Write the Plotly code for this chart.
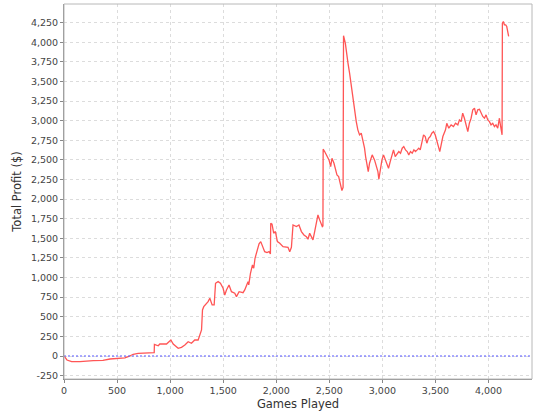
import plotly.graph_objects as go

games = [0, 28, 72, 150, 276, 367, 433, 574, 605, 652, 699, 809, 850, 852, 888, 903, 966,
         1007, 1029, 1076, 1107, 1139, 1170, 1201, 1232, 1264, 1286, 1296, 1305, 1317, 1358,
         1374, 1396, 1415, 1428, 1452, 1474, 1499, 1515, 1531, 1555, 1578, 1609, 1625, 1650,
         1687, 1703, 1719, 1734, 1741, 1757, 1776, 1788, 1800, 1819, 1838, 1854, 1875, 1891,
         1913, 1932, 1945, 1948, 1960, 1976, 1992, 2011, 2033, 2064, 2111, 2127, 2143, 2152,
         2158, 2190, 2214, 2237, 2261, 2284, 2299, 2315, 2331, 2346, 2362, 2378, 2393, 2409,
         2425, 2434, 2440, 2442, 2456, 2472, 2497, 2513, 2525, 2544, 2560, 2572, 2588, 2604,
         2619, 2630, 2634, 2651, 2660, 2676, 2691, 2707, 2722, 2738, 2754, 2769, 2785, 2801,
         2816, 2832, 2842, 2854, 2867, 2879, 2904, 2926, 2942, 2958, 2967, 2980, 2996, 3011,
         3027, 3042, 3058, 3074, 3089, 3105, 3121, 3136, 3155, 3171, 3187, 3202, 3218, 3234,
         3249, 3265, 3281, 3297, 3312, 3328, 3343, 3357, 3372, 3388, 3404, 3419, 3435, 3451,
         3466, 3482, 3498, 3513, 3529, 3541, 3554, 3570, 3595, 3607, 3626, 3648, 3670, 3689,
         3711, 3726, 3742, 3757, 3773, 3789, 3805, 3820, 3836, 3852, 3868, 3883, 3899, 3915,
         3930, 3946, 3962, 3977, 3993, 4009, 4024, 4040, 4056, 4071, 4087, 4103, 4112, 4122,
         4128, 4131, 4140, 4150, 4162, 4172, 4181, 4190]

profit = [0, -51, -72, -72, -60, -55, -38, -25, -9, 22, 34, 42, 42, 149, 131, 153, 153,
          204, 153, 98, 111, 140, 182, 162, 204, 204, 310, 332, 587, 629, 693,
          736, 651, 651, 927, 948, 927, 863, 778, 842, 906, 820, 800, 757, 820,
          807, 842, 906, 948, 906, 1055, 1161, 1119, 1246, 1352, 1429, 1458, 1394, 1330,
          1318, 1330, 1301, 1693, 1680, 1565, 1586, 1458, 1437, 1394, 1386, 1330, 1386, 1522,
          1671, 1650, 1671, 1586, 1543, 1522, 1488, 1565, 1522, 1480, 1586, 1693, 1799, 1735,
          1693, 1650, 1658, 2636, 2606, 2564, 2500, 2415, 2521, 2457, 2372, 2309, 2287, 2202,
          2108, 2150, 4082, 3989, 3861, 3733, 3606, 3435, 3265, 3096, 2988, 2883, 2819, 2840,
          2755, 2649, 2542, 2457, 2351, 2457, 2564, 2500, 2415, 2351, 2254, 2393, 2500, 2564,
          2500, 2436, 2393, 2478, 2564, 2627, 2542, 2564, 2606, 2585, 2649, 2670, 2627, 2606,
          2564, 2606, 2585, 2627, 2606, 2627, 2649, 2627, 2734, 2819, 2798, 2713, 2776, 2798,
          2840, 2861, 2819, 2734, 2649, 2606, 2691, 2798, 2883, 2967, 2904, 2946, 2925, 2967,
          2946, 3010, 2988, 3096, 3031, 2925, 2861, 2967, 3031, 3138, 3159, 3074, 3138, 3146,
          3096, 3053, 3031, 3074, 3010, 2988, 2946, 2967, 2925, 2946, 2904, 3031, 2946, 2840,
          2819, 4243, 4264, 4222, 4222, 4200, 4116, 4073]

y_ticks = [-250, 0, 250, 500, 750, 1000, 1250, 1500, 1750, 2000, 2250, 2500, 2750, 3000,
           3250, 3500, 3750, 4000, 4250]
x_ticks = [0, 500, 1000, 1500, 2000, 2500, 3000, 3500, 4000]

fig = go.Figure()
fig.add_trace(go.Scatter(x=games, y=profit, mode="lines",
                         line=dict(color="#ff5555", width=1.3), hoverinfo="skip",
                         showlegend=False))

fig.add_shape(type="line", xref="paper", x0=0, x1=1, yref="y", y0=0, y1=0,
              line=dict(color="#5555ff", width=1, dash="2px,2px"))
fig.add_shape(type="rect", xref="paper", yref="paper", x0=0, x1=1, y0=0, y1=1,
              line=dict(color="#b8b8b8", width=1), layer="above")

tickfont = dict(family="DejaVu Sans", size=9.5, color="#444444")
titlefont = dict(family="DejaVu Sans", size=11.5, color="#333333")

fig.update_layout(
    width=540, height=420,
    margin=dict(l=64, r=8, t=4, b=41),
    paper_bgcolor="white", plot_bgcolor="white",
    xaxis=dict(range=[0, 4410], tickvals=x_ticks, automargin=False,
               ticktext=[f"{v:,}" for v in x_ticks],
               showgrid=True, gridcolor="#dcdcdc", griddash="3px,3px", gridwidth=1,
               zeroline=False, showline=True, linecolor="#888888", linewidth=1,
               ticks="outside", ticklen=3, tickcolor="#888888",
               tickfont=tickfont,
               title=dict(text="Games Played", font=titlefont, standoff=4)),
    yaxis=dict(range=[-293, 4487], tickvals=y_ticks, automargin=False,
               ticktext=[f"{v:,}" for v in y_ticks],
               showgrid=True, gridcolor="#dcdcdc", griddash="3px,3px", gridwidth=1,
               zeroline=False, showline=True, linecolor="#888888", linewidth=1,
               ticks="outside", ticklen=3, tickcolor="#888888",
               tickfont=tickfont,
               title=dict(text="Total Profit ($)", font=titlefont, standoff=6)),
)

fig.write_html("out.html", config={"displayModeBar": False},
               post_script="document.body.style.margin='0';document.body.style.overflow='hidden';")
